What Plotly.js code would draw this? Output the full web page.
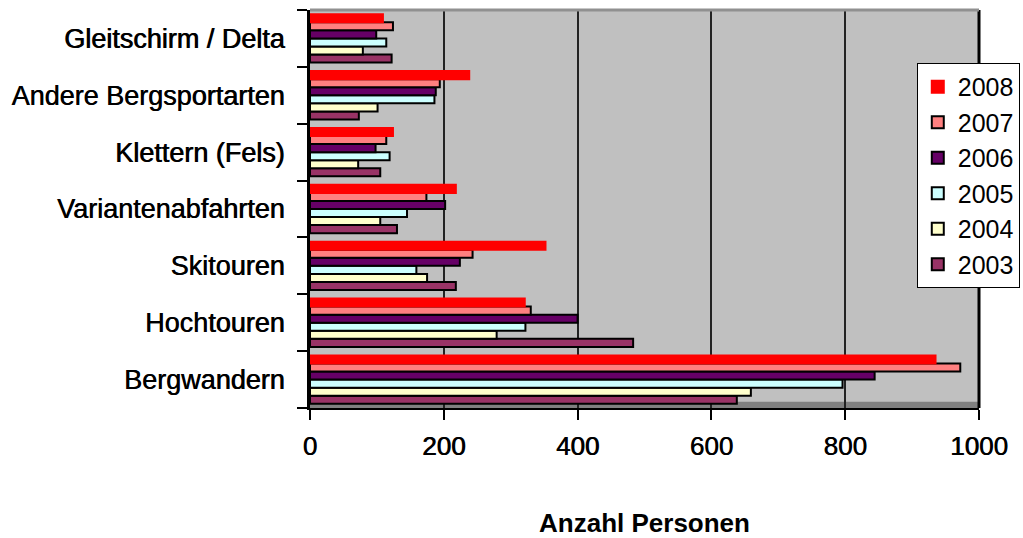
<!DOCTYPE html>
<html>
<head>
<meta charset="utf-8">
<script src="https://cdn.plot.ly/plotly-3.0.1.min.js"></script>
<style>html,body{margin:0;padding:0;background:#fff;}#chart{width:1023px;height:538px;}</style>
</head>
<body>
<div id="chart"></div>
<script>
// Categories bottom to top (Plotly draws first category at the bottom)
const categories = ["Bergwandern", "Hochtouren", "Skitouren", "Variantenabfahrten", "Klettern (Fels)", "Andere Bergsportarten", "Gleitschirm / Delta"];
const years = ["2003", "2004", "2005", "2006", "2007", "2008"];
const v2003 = [638, 483, 218, 130, 105, 73, 122];
const v2004 = [659, 279, 175, 105, 72, 101, 79];
const v2005 = [796, 322, 159, 145, 119, 186, 114];
const v2006 = [844, 400, 224, 202, 98, 188, 99];
const v2007 = [972, 330, 243, 174, 114, 194, 124];
const v2008 = [935, 321, 352, 218, 124, 238, 109];
const seriesValues = [v2003, v2004, v2005, v2006, v2007, v2008];
const colors = ["#993366", "#ffffcc", "#ccffff", "#660066", "#ff8080", "#ff0000"];
const xTicks = [0, 200, 400, 600, 800, 1000];

const traces = years.map((y, i) => ({
  type: "bar",
  orientation: "h",
  name: y,
  y: categories,
  x: seriesValues[i],
  marker: {color: colors[i], line: {color: i === 5 ? colors[i] : "#000000", width: 2}}
}));

const txtShadow = "0.6px 0px 0px #000";

const layout = {
  width: 1023, height: 538,
  margin: {l: 310, r: 44, t: 10, b: 130, autoexpand: false},
  paper_bgcolor: "#ffffff",
  plot_bgcolor: "#c0c0c0",
  barmode: "group",
  bargap: 0.15,
  bargroupgap: 0,
  font: {family: "Liberation Sans, Arial, sans-serif", color: "#000"},
  showlegend: true,
  legend: {
    x: 0.907, y: 0.867, xanchor: "left", yanchor: "top",
    bgcolor: "#ffffff", bordercolor: "#000000", borderwidth: 1,
    font: {size: 25, color: "#000"},
    itemwidth: 30,
    traceorder: "reversed"
  },
  xaxis: {
    automargin: false,
    range: [0, 1000],
    tickvals: xTicks,
    ticktext: xTicks.map(String),
    showgrid: true, gridcolor: "#222222", gridwidth: 2,
    zeroline: false,
    showline: true, linecolor: "#000", linewidth: 2,
    ticks: "outside", ticklen: 10, tickwidth: 2, tickcolor: "#000",
    ticklabelstandoff: 4,
    tickfont: {size: 26, shadow: txtShadow},
    title: {text: "<b>Anzahl Personen</b>", font: {size: 26}, standoff: 54}
  },
  yaxis: {
    automargin: false,
    type: "category",
    tickson: "boundaries",
    ticks: "outside", ticklen: 10, tickwidth: 2, tickcolor: "#000",
    showline: true, linecolor: "#000", linewidth: 3,
    showgrid: false,
    ticklabelstandoff: 17,
    tickfont: {size: 27, shadow: txtShadow}
  },
  shapes: [
    {type: "rect", layer: "below", xref: "paper", yref: "paper", x0: 0, x1: 1, y0: 0, y1: 0.016, fillcolor: "#808080", line: {width: 0}},
    {type: "line", xref: "paper", yref: "paper", x0: 1, x1: 1, y0: 0, y1: 1, line: {color: "#000", width: 3}},
    {type: "line", xref: "paper", yref: "paper", x0: 0, x1: 1, y0: 1, y1: 1, line: {color: "#909090", width: 3}}
  ]
};

Plotly.newPlot("chart", traces, layout, {displayModeBar: false, staticPlot: true});
</script>
</body>
</html>
